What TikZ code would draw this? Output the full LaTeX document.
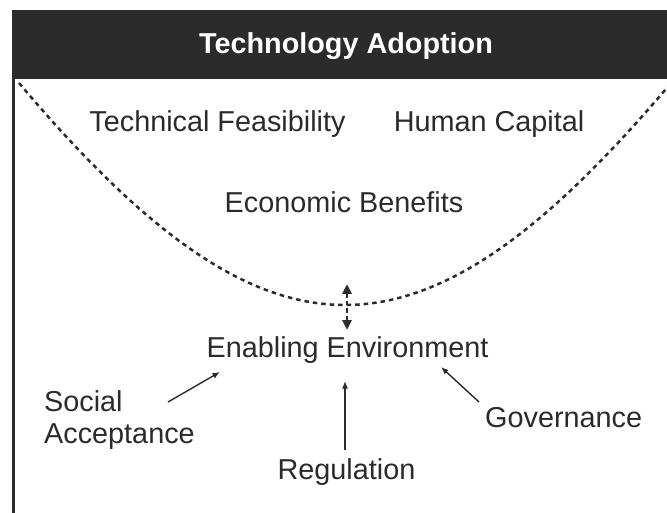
\documentclass[tikz,border=0pt]{standalone}
\usepackage{fontspec}
\setmainfont{Liberation Sans}
\usetikzlibrary{arrows.meta}
\definecolor{ink}{HTML}{2B2B2B}
\tikzset{
  lbl/.style={inner sep=0pt, text=ink, font=\fontsize{28.8}{32}\selectfont},
  arr/.style={draw=ink, line width=1.4pt, -{Latex[length=7.5pt,width=6pt]}},
  darr/.style={draw=ink, line width=2.5pt, dash pattern=on 4.5pt off 3pt,
     {Triangle[length=10pt,width=9pt]}-{Triangle[length=10pt,width=9pt]}},
  bowl/.style={draw=ink, line width=2.5pt, dash pattern=on 4.5pt off 4pt}
}
\begin{document}
\begin{tikzpicture}[x=1pt,y=-1pt]
\useasboundingbox (0,0) rectangle (667,513);
\fill[white] (0,0) rectangle (667,513);
\clip (0,0) rectangle (667,513);
% header
\fill[ink] (12,10) rectangle (667,79);
\node[lbl, text=white, anchor=base, font=\fontsize{28.8}{32}\selectfont\bfseries] (title) at (346,54) {Technology Adoption};
% left border line
\draw[ink, line width=3pt] (13.5,79) -- (13.5,513);
% dotted bowl
\draw[bowl] (19,83) .. controls (269,379) and (421,379) .. (671,83);
% labels
\node[lbl, anchor=base] (tf) at (217.5,132) {Technical Feasibility};
\node[lbl, anchor=base] (hc) at (489,132) {Human Capital};
\node[lbl, anchor=base] (eb) at (344,213) {Economic Benefits};
\node[lbl, anchor=base] (ee) at (347.5,357) {Enabling Environment};
\node[lbl, anchor=base west] (sa) at (44,411) {Social};
\node[lbl, anchor=base west] (sb) at (44,443) {Acceptance};
\node[lbl, anchor=base] (rg) at (346.5,479) {Regulation};
\node[lbl, anchor=base west] (gv) at (485,427) {Governance};
% arrow end points
\coordinate (bowlTop) at (347,284);
\coordinate (eeTop) at (347,330);
\coordinate (saTail) at (168,402);
\coordinate (saHead) at (220,372);
\coordinate (rgTail) at (345,450);
\coordinate (rgHead) at (345,381);
\coordinate (gvTail) at (479,402);
\coordinate (gvHead) at (441,367);
% connectors
\draw[darr] (bowlTop) -- (eeTop);
\draw[arr] (saTail) -- (saHead);
\draw[arr] (rgTail) -- (rgHead);
\draw[arr] (gvTail) -- (gvHead);
\end{tikzpicture}
\end{document}
